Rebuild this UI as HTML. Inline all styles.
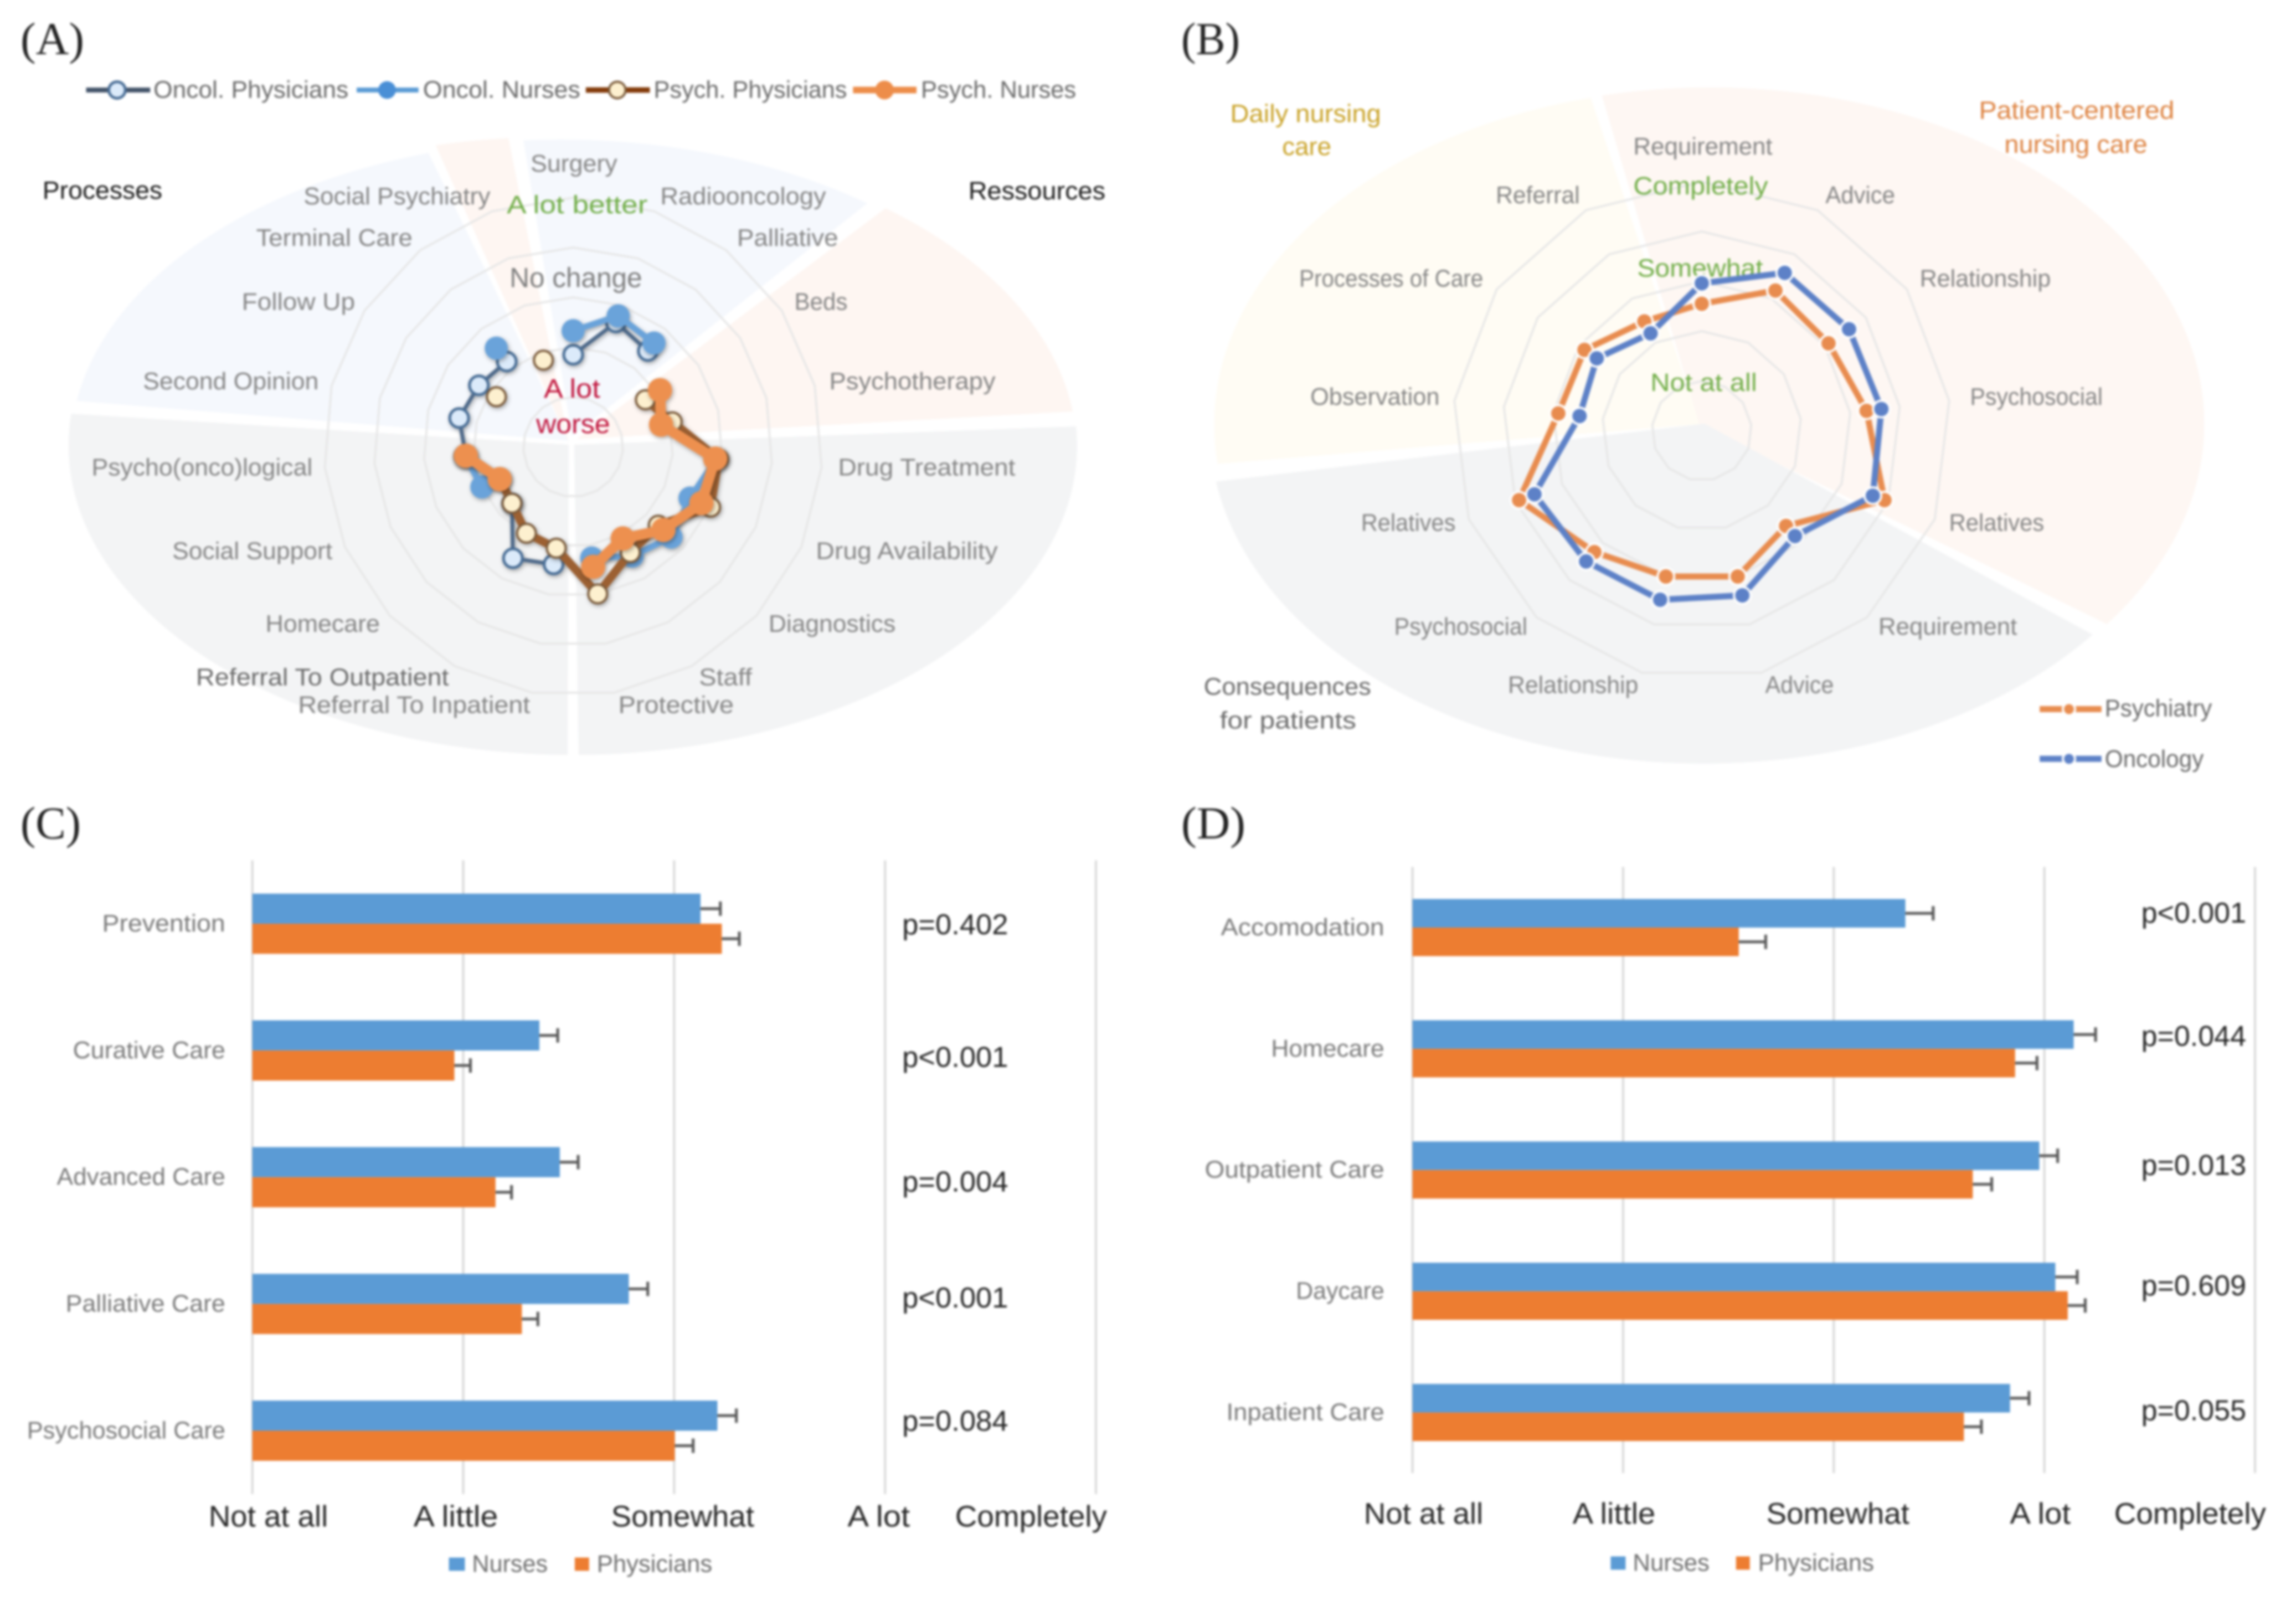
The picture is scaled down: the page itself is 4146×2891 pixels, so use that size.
<!DOCTYPE html>
<html lang="en">
<head>
<meta charset="utf-8">
<title>Four-panel survey chart</title>
<style>
html,body{margin:0;padding:0;background:#fff;width:4146px;height:2891px;overflow:hidden}
svg{display:block;filter:blur(2px)}
text{font-family:"Liberation Sans",sans-serif;font-size:44px;fill:#858585}
.panel{font-family:"Liberation Serif",serif;font-size:83px;fill:#222}
.dark{fill:#6b6b6b}
.black{fill:#1a1a1a;font-size:46px}
.green{fill:#70ad47;font-size:46px}
.red{fill:#c0143c;font-size:48px}
.nochange{fill:#7f7f7f;font-size:50px}
.gold{fill:#c9a227;font-size:46px}
.orange{fill:#dd8240;font-size:46px}
.tick{fill:#262626;font-size:54px}
.pval{fill:#262626;font-size:52px}
.leg{fill:#6f6f6f;font-size:44px}
.legA{fill:#6a6a6a;font-size:44px}
</style>
</head>
<body>
<svg id="fig" xmlns="http://www.w3.org/2000/svg" width="4146" height="2891" viewBox="0 0 4146 2891">
<defs>
<filter id="sh" x="-5%" y="-5%" width="110%" height="110%"><feDropShadow dx="2" dy="3" stdDeviation="4" flood-color="#000" flood-opacity="0.35"/></filter>
</defs>
<rect width="4146" height="2891" fill="#fff"/>

<text class="panel" x="37" y="98" textLength="115" lengthAdjust="spacingAndGlyphs">(A)</text>
<text class="panel" x="2133" y="98" textLength="106" lengthAdjust="spacingAndGlyphs">(B)</text>
<text class="panel" x="37" y="1514" textLength="109" lengthAdjust="spacingAndGlyphs">(C)</text>
<text class="panel" x="2133" y="1514" textLength="116" lengthAdjust="spacingAndGlyphs">(D)</text>

<g transform="scale(.997,.9973)">
<path fill="#f5f8fd" d="M1030 798 L139 726 A915 560 0 0 1 776 277 Z"/>
<path fill="#fef6f2" d="M1030 800 L789 263 A915 560 0 0 1 921 250 Z"/>
<path fill="#f5f8fd" d="M1036 790 L948 254 A915 560 0 0 1 1571 368 Z"/>
<path fill="#fef6f2" d="M1045 795 L1604 377 A915 560 0 0 1 1943 745 Z"/>
<path fill="#f3f4f5" d="M1040 805 L1949 772 A915 560 0 0 1 1048 1367 Z"/>
<path fill="#f3f4f5" d="M1030 805 L1028 1367 A915 560 0 0 1 129 749 Z"/>
</g>
<g transform="translate(2073,0) scale(.997,.9973) translate(-2073,0)">
<path fill="#fffcf4" d="M3073 768 L2199 840 A895 609 0 0 1 2875 177 Z"/>
<path fill="#fef7f3" d="M3072 770 L2895 173 A895 609 0 0 1 3810 1130 Z"/>
<path fill="#f3f4f5" d="M3081 767 L3784 1149 A895 609 0 0 1 2196 872 Z"/>
</g>

<g id="ringsA"></g>
<g id="ringsB"></g>

<g transform="scale(.997,.9973)">
<g>
<line x1="156" x2="272" y1="163" y2="163" stroke="#44546a" stroke-width="9"/>
<circle cx="212" cy="163" r="15" fill="#dbeafa" stroke="#4a6e96" stroke-width="5"/>
<text class="legA" x="278" y="177" textLength="353" lengthAdjust="spacingAndGlyphs">Oncol. Physicians</text>
</g>
<g>
<line x1="646" x2="758" y1="163" y2="163" stroke="#5b9bd5" stroke-width="9"/>
<circle cx="701" cy="163" r="16" fill="#4a8fd6"/>
<text class="legA" x="766" y="177" textLength="285" lengthAdjust="spacingAndGlyphs">Oncol. Nurses</text>
</g>
<g>
<line x1="1061" x2="1177" y1="163" y2="163" stroke="#843c0c" stroke-width="10"/>
<circle cx="1118" cy="163" r="15" fill="#fdf0cf" stroke="#7a5a3a" stroke-width="4"/>
<text class="legA" x="1184" y="177" textLength="350" lengthAdjust="spacingAndGlyphs">Psych. Physicians</text>
</g>
<g>
<line x1="1545" x2="1660" y1="163" y2="163" stroke="#ed8d4a" stroke-width="12"/>
<circle cx="1602" cy="163" r="17" fill="#ed8d4a"/>
<text class="legA" x="1668" y="177" textLength="281" lengthAdjust="spacingAndGlyphs">Psych. Nurses</text>
</g>
</g>

<g transform="scale(.997,.9973)">
<text class="black" x="77" y="360" textLength="217" lengthAdjust="spacingAndGlyphs">Processes</text>
<text class="black" x="1754" y="361" textLength="248" lengthAdjust="spacingAndGlyphs">Ressources</text>
<text x="961" y="311" textLength="157" lengthAdjust="spacingAndGlyphs">Surgery</text>
<text x="550" y="370" textLength="338" lengthAdjust="spacingAndGlyphs">Social Psychiatry</text>
<text class="green" x="918" y="386" textLength="255" lengthAdjust="spacingAndGlyphs">A lot better</text>
<text x="1196" y="370" textLength="300" lengthAdjust="spacingAndGlyphs">Radiooncology</text>
<text x="464" y="445" textLength="283" lengthAdjust="spacingAndGlyphs">Terminal Care</text>
<text x="1335" y="445" textLength="183" lengthAdjust="spacingAndGlyphs">Palliative</text>
<text class="nochange" x="923" y="520" textLength="240" lengthAdjust="spacingAndGlyphs">No change</text>
<text x="438" y="561" textLength="205" lengthAdjust="spacingAndGlyphs">Follow Up</text>
<text x="1439" y="561" textLength="96" lengthAdjust="spacingAndGlyphs">Beds</text>
<text x="259" y="705" textLength="318" lengthAdjust="spacingAndGlyphs">Second Opinion</text>
<text x="1502" y="705" textLength="301" lengthAdjust="spacingAndGlyphs">Psychotherapy</text>
<text class="red" x="985" y="720" textLength="102" lengthAdjust="spacingAndGlyphs">A lot</text>
<text class="red" x="971" y="784" textLength="134" lengthAdjust="spacingAndGlyphs">worse</text>
<text x="166" y="861" textLength="400" lengthAdjust="spacingAndGlyphs">Psycho(onco)logical</text>
<text x="1518" y="861" textLength="321" lengthAdjust="spacingAndGlyphs">Drug Treatment</text>
<text x="312" y="1012" textLength="290" lengthAdjust="spacingAndGlyphs">Social Support</text>
<text x="1478" y="1012" textLength="329" lengthAdjust="spacingAndGlyphs">Drug Availability</text>
<text x="481" y="1144" textLength="207" lengthAdjust="spacingAndGlyphs">Homecare</text>
<text x="1392" y="1144" textLength="230" lengthAdjust="spacingAndGlyphs">Diagnostics</text>
<text class="dark" x="355" y="1241" textLength="458" lengthAdjust="spacingAndGlyphs">Referral To Outpatient</text>
<text x="1266" y="1241" textLength="96" lengthAdjust="spacingAndGlyphs">Staff</text>
<text x="540" y="1291" textLength="420" lengthAdjust="spacingAndGlyphs">Referral To Inpatient</text>
<text x="1120" y="1291" textLength="209" lengthAdjust="spacingAndGlyphs">Protective</text>
</g>

<g transform="translate(2073,0) scale(.997,.9973) translate(-2073,0)">
<text class="gold" x="2222" y="221" textLength="273" lengthAdjust="spacingAndGlyphs">Daily nursing</text>
<text class="gold" x="2316" y="281" textLength="89" lengthAdjust="spacingAndGlyphs">care</text>
<text class="orange" x="3578" y="215" textLength="354" lengthAdjust="spacingAndGlyphs">Patient-centered</text>
<text class="orange" x="3624" y="277" textLength="259" lengthAdjust="spacingAndGlyphs">nursing care</text>
<text x="2952" y="280" textLength="252" lengthAdjust="spacingAndGlyphs">Requirement</text>
<text class="green" x="2952" y="352" textLength="244" lengthAdjust="spacingAndGlyphs">Completely</text>
<text x="2703" y="368" textLength="152" lengthAdjust="spacingAndGlyphs">Referral</text>
<text x="3300" y="368" textLength="126" lengthAdjust="spacingAndGlyphs">Advice</text>
<text class="green" x="2959" y="501" textLength="228" lengthAdjust="spacingAndGlyphs">Somewhat</text>
<text x="2347" y="519" textLength="333" lengthAdjust="spacingAndGlyphs">Processes of Care</text>
<text x="3471" y="519" textLength="237" lengthAdjust="spacingAndGlyphs">Relationship</text>
<text class="green" x="2983" y="708" textLength="193" lengthAdjust="spacingAndGlyphs">Not at all</text>
<text x="2367" y="733" textLength="234" lengthAdjust="spacingAndGlyphs">Observation</text>
<text x="3562" y="733" textLength="240" lengthAdjust="spacingAndGlyphs">Psychosocial</text>
<text x="2459" y="961" textLength="171" lengthAdjust="spacingAndGlyphs">Relatives</text>
<text x="3524" y="961" textLength="172" lengthAdjust="spacingAndGlyphs">Relatives</text>
<text x="2519" y="1149" textLength="241" lengthAdjust="spacingAndGlyphs">Psychosocial</text>
<text x="3396" y="1149" textLength="251" lengthAdjust="spacingAndGlyphs">Requirement</text>
<text x="2725" y="1255" textLength="236" lengthAdjust="spacingAndGlyphs">Relationship</text>
<text x="3191" y="1255" textLength="124" lengthAdjust="spacingAndGlyphs">Advice</text>
<text class="legA" x="2174" y="1258" textLength="303" lengthAdjust="spacingAndGlyphs">Consequences</text>
<text class="legA" x="2203" y="1319" textLength="247" lengthAdjust="spacingAndGlyphs">for patients</text>
</g>
<g transform="translate(2073,0) scale(.997,.9973) translate(-2073,0)">
<g>
<line x1="3688" x2="3800" y1="1284" y2="1284" stroke="#e88c4f" stroke-width="11"/>
<circle cx="3741" cy="1284" r="11" fill="#e88c4f" stroke="#fff" stroke-width="4"/>
<text class="legA" x="3806" y="1297" textLength="194" lengthAdjust="spacingAndGlyphs">Psychiatry</text>
</g>
<g>
<line x1="3688" x2="3800" y1="1374" y2="1374" stroke="#5d81c7" stroke-width="11"/>
<circle cx="3741" cy="1374" r="11" fill="#5d81c7" stroke="#fff" stroke-width="4"/>
<text class="legA" x="3806" y="1389" textLength="179" lengthAdjust="spacingAndGlyphs">Oncology</text>
</g>
</g>

<g id="marksA"></g>
<g id="marksB"></g>

<g id="chartC" transform="translate(0,1420) scale(.997,.9968) translate(0,-1420)"></g>
<g id="chartD" transform="translate(2073,1420) scale(.997,.9968) translate(-2073,-1420)"></g>

<g transform="translate(0,1420) scale(.997,.9968) translate(0,-1420)">
<text class="tick" x="378" y="2761" textLength="216" lengthAdjust="spacingAndGlyphs">Not at all</text>
<text class="tick" x="749" y="2761" textLength="153" lengthAdjust="spacingAndGlyphs">A little</text>
<text class="tick" x="1107" y="2761" textLength="259" lengthAdjust="spacingAndGlyphs">Somewhat</text>
<text class="tick" x="1535" y="2761" textLength="113" lengthAdjust="spacingAndGlyphs">A lot</text>
<text class="tick" x="1730" y="2761" textLength="275" lengthAdjust="spacingAndGlyphs">Completely</text>
</g>
<g transform="translate(0,1420) scale(.997,.9968) translate(0,-1420)">
<text class="pval" x="1634" y="1688" textLength="192" lengthAdjust="spacingAndGlyphs">p=0.402</text>
<text class="pval" x="1634" y="1928" textLength="192" lengthAdjust="spacingAndGlyphs">p&lt;0.001</text>
<text class="pval" x="1634" y="2154" textLength="192" lengthAdjust="spacingAndGlyphs">p=0.004</text>
<text class="pval" x="1634" y="2364" textLength="192" lengthAdjust="spacingAndGlyphs">p&lt;0.001</text>
<text class="pval" x="1634" y="2587" textLength="192" lengthAdjust="spacingAndGlyphs">p=0.084</text>
</g>
<g transform="translate(0,1420) scale(.997,.9968) translate(0,-1420)">
<rect x="813" y="2817" width="29" height="24" fill="#5b9bd5"/>
<text class="leg" x="855" y="2843" textLength="137" lengthAdjust="spacingAndGlyphs">Nurses</text>
<rect x="1041" y="2817" width="26" height="24" fill="#ed7d31"/>
<text class="leg" x="1081" y="2843" textLength="209" lengthAdjust="spacingAndGlyphs">Physicians</text>
</g>

<g transform="translate(2073,1420) scale(.997,.9968) translate(-2073,-1420)">
<text class="tick" x="2464" y="2756" textLength="216" lengthAdjust="spacingAndGlyphs">Not at all</text>
<text class="tick" x="2842" y="2756" textLength="150" lengthAdjust="spacingAndGlyphs">A little</text>
<text class="tick" x="3193" y="2756" textLength="259" lengthAdjust="spacingAndGlyphs">Somewhat</text>
<text class="tick" x="3634" y="2756" textLength="110" lengthAdjust="spacingAndGlyphs">A lot</text>
<text class="tick" x="3823" y="2756" textLength="275" lengthAdjust="spacingAndGlyphs">Completely</text>
</g>
<g transform="translate(2073,1420) scale(.997,.9968) translate(-2073,-1420)">
<text class="pval" x="3872" y="1667" textLength="190" lengthAdjust="spacingAndGlyphs">p&lt;0.001</text>
<text class="pval" x="3872" y="1890" textLength="190" lengthAdjust="spacingAndGlyphs">p=0.044</text>
<text class="pval" x="3872" y="2124" textLength="190" lengthAdjust="spacingAndGlyphs">p=0.013</text>
<text class="pval" x="3872" y="2342" textLength="190" lengthAdjust="spacingAndGlyphs">p=0.609</text>
<text class="pval" x="3872" y="2568" textLength="190" lengthAdjust="spacingAndGlyphs">p=0.055</text>
</g>
<g transform="translate(2073,1420) scale(.997,.9968) translate(-2073,-1420)">
<rect x="2911" y="2815" width="27" height="24" fill="#5b9bd5"/>
<text class="leg" x="2951" y="2841" textLength="139" lengthAdjust="spacingAndGlyphs">Nurses</text>
<rect x="3138" y="2815" width="25" height="24" fill="#ed7d31"/>
<text class="leg" x="3178" y="2841" textLength="210" lengthAdjust="spacingAndGlyphs">Physicians</text>
</g>
</svg>

<script>
// ---- Panel A data (radar, 19 axes; null = not asked for that group) ----
const radarACategories = ["Surgery","Radiooncology","Palliative","Beds","Psychotherapy","Drug Treatment","Drug Availability","Diagnostics","Staff","Protective","Referral To Inpatient","Referral To Outpatient","Homecare","Social Support","Psycho(onco)logical","Second Opinion","Follow Up","Terminal Care","Social Psychiatry"];
const oncolPhysicians = [1.85,2.64,2.44,null,null,null,null,null,null,null,2.39,2.54,1.67,1.62,2.16,2.36,2.26,2.17,null];
const oncolNurses = [2.33,2.78,2.64,null,null,2.88,2.56,2.67,2.49,2.26,null,null,null,2.00,2.18,null,null,2.51,null];
const psychPhysicians = [null,null,null,1.73,2.05,2.93,3.01,2.32,2.41,2.99,2.06,1.97,1.67,1.60,2.20,null,1.84,null,1.84];
const psychNurses = [null,null,null,2.08,1.82,2.86,2.81,2.46,2.09,2.44,null,null,null,1.61,2.16,null,null,null,null];
const radarARings = [1,2,3,4,5];

// ---- Panel B data (radar, 13 axes) ----
const radarBCategories = ["Requirement","Advice","Relationship","Psychosocial","Relatives","Requirement 2","Advice 2","Relationship 2","Psychosocial 2","Relatives 2","Observation","Processes of Care","Referral"];
const psychiatry = [2.55,3.18,3.09,3.33,3.92,2.55,3.01,3.01,3.25,3.92,2.90,2.86,2.48];
const oncology = [2.96,3.58,3.59,3.63,3.67,2.82,3.40,3.49,3.50,3.59,2.47,2.56,2.21];
const radarBRings = [1,2,3,4,5];

// ---- Panel C data (1 = Not at all ... 5 = Completely) ----
const chartCCategories = ["Prevention","Curative Care","Advanced Care","Palliative Care","Psychosocial Care"];
const chartCNurses = [3.125,2.361,2.458,2.785,3.205];
const chartCPhysicians = [3.226,1.958,2.153,2.278,3.003];
const chartCNursesErr = [0.094,0.087,0.087,0.09,0.09];
const chartCPhysiciansErr = [0.083,0.076,0.076,0.076,0.087];
const chartCTicks = [1,2,3,4,5];

// ---- Panel D data ----
const chartDCategories = ["Accomodation","Homecare","Outpatient Care","Daycare","Inpatient Care"];
const chartDNurses = [3.34,4.139,3.976,4.052,3.837];
const chartDPhysicians = [2.549,3.861,3.66,4.111,3.618];
const chartDNursesErr = [0.132,0.104,0.087,0.104,0.09];
const chartDPhysiciansErr = [0.128,0.104,0.09,0.083,0.083];
const chartDTicks = [1,2,3,4,5];

const NS = 'http://www.w3.org/2000/svg';
function svgEl(tag, attrs) {
  const el = document.createElementNS(NS, tag);
  for (const k in attrs) el.setAttribute(k, attrs[k]);
  return el;
}
function slug(s) { return String(s).toLowerCase().replace(/[^a-z0-9]+/g, '-').replace(/^-|-$/g, ''); }

function radarPoint(geom, i, v) {
  const a = 2 * Math.PI * i / geom.n;
  return [geom.cx + geom.unit * v * Math.sin(a), geom.cy - geom.unit * v * Math.cos(a)];
}

function drawRings(host, geom, rings, prefix) {
  rings.forEach(function (r) {
    const pts = [];
    for (let i = 0; i < geom.n; i++) pts.push(radarPoint(geom, i, r).join(','));
    const ring = svgEl('polygon', {points: pts.join(' '), fill: 'none', stroke: '#e6e6e6', 'stroke-width': 3.5});
    
    
    host.appendChild(ring);
  });
}

function drawRadarSeries(host, geom, name, cats, values, st, closed) {
  const group = svgEl('g', st.shadow ? {filter: 'url(#sh)'} : {});
  
  
  let d = '';
  let prev = false;
  values.forEach(function (v, i) {
    if (v === null) { prev = false; return; }
    const p = radarPoint(geom, i, v);
    d += (prev ? 'L' : 'M') + p[0].toFixed(1) + ' ' + p[1].toFixed(1) + ' ';
    prev = true;
  });
  if (closed) d += 'Z';
  const line = svgEl('path', {d: d, fill: 'none', stroke: st.line, 'stroke-width': st.lineWidth, 'stroke-linejoin': 'round'});
  
  
  group.appendChild(line);
  values.forEach(function (v, i) {
    if (v === null) return;
    const p = radarPoint(geom, i, v);
    const dot = svgEl('circle', {cx: p[0], cy: p[1], r: st.r, fill: st.fill, stroke: st.stroke, 'stroke-width': st.strokeWidth});
    
    
    group.appendChild(dot);
  });
  host.appendChild(group);
}

function drawBars(host, cfg) {
  const xOf = function (v) { return cfg.x0 + (v - 1) * cfg.unit; };
  const band = (cfg.yBottom - cfg.yTop) / cfg.categories.length;
  cfg.ticks.forEach(function (t) {
    const grid = svgEl('line', {x1: xOf(t), x2: xOf(t), y1: cfg.yTop, y2: cfg.yBottom, stroke: '#d9d9d9', 'stroke-width': 4});
    
    
    host.appendChild(grid);
  });
  cfg.categories.forEach(function (c, i) {
    const cy = cfg.yTop + band * (i + 0.5);
    const label = svgEl('text', {x: cfg.labelX, y: cy + 14, 'text-anchor': 'end', textLength: cfg.labelWidth[c], lengthAdjust: 'spacingAndGlyphs', style: 'fill:#7a7a7a'});
    label.textContent = c;
    
    
    host.appendChild(label);
    [[cfg.nurses, cfg.nursesErr, '#5b9bd5', 'nurses', cy - cfg.barH],
     [cfg.physicians, cfg.physiciansErr, '#ed7d31', 'physicians', cy]].forEach(function (s) {
      const vx = xOf(s[0][i]);
      const bar = svgEl('rect', {x: cfg.x0, y: s[4], width: vx - cfg.x0, height: cfg.barH, fill: s[2]});
      
      
      host.appendChild(bar);
      const ex = xOf(s[0][i] + s[1][i]);
      const my = s[4] + cfg.barH / 2;
      const err = svgEl('path', {d: 'M' + vx + ' ' + my + 'H' + ex + 'M' + ex + ' ' + (my - 13) + 'V' + (my + 13), stroke: '#595959', 'stroke-width': 5, fill: 'none'});
      
      
      host.appendChild(err);
    });
  });
}

const geomA = {cx: 1035, cy: 807, unit: 90, n: radarACategories.length};
const geomB = {cx: 3073, cy: 778, unit: 90, n: radarBCategories.length};

drawRings(document.getElementById('ringsA'), geomA, radarARings, 'radar-a');
drawRings(document.getElementById('ringsB'), geomB, radarBRings, 'radar-b');

const marksA = document.getElementById('marksA');
drawRadarSeries(marksA, geomA, 'oncol-physicians', radarACategories, oncolPhysicians, {line: '#4f6a8a', lineWidth: 7, r: 17, fill: '#dbeafa', stroke: '#4a6e96', strokeWidth: 5, shadow: true}, false);
drawRadarSeries(marksA, geomA, 'oncol-nurses', radarACategories, oncolNurses, {line: '#6aa3da', lineWidth: 11, r: 21, fill: '#6aa3da', stroke: 'none', strokeWidth: 0, shadow: true}, false);
drawRadarSeries(marksA, geomA, 'psych-physicians', radarACategories, psychPhysicians, {line: '#9c6030', lineWidth: 15, r: 17, fill: '#fdf0cf', stroke: '#7a5a3a', strokeWidth: 4, shadow: true}, false);
drawRadarSeries(marksA, geomA, 'psych-nurses', radarACategories, psychNurses, {line: '#ed9050', lineWidth: 19, r: 22, fill: '#ed9050', stroke: 'none', strokeWidth: 0, shadow: true}, false);

const marksB = document.getElementById('marksB');
drawRadarSeries(marksB, geomB, 'psychiatry', radarBCategories, psychiatry, {line: '#e88c4f', lineWidth: 11, r: 15, fill: '#e88c4f', stroke: '#fff', strokeWidth: 4, shadow: false}, true);
drawRadarSeries(marksB, geomB, 'oncology', radarBCategories, oncology, {line: '#5d81c7', lineWidth: 11, r: 15, fill: '#5d81c7', stroke: '#fff', strokeWidth: 4, shadow: false}, true);

drawBars(document.getElementById('chartC'), {
  x0: 457, unit: 382, yTop: 1554, yBottom: 2702, barH: 54.5, labelX: 408,
  labelWidth: {"Prevention": 223, "Curative Care": 276, "Advanced Care": 305, "Palliative Care": 289, "Psychosocial Care": 359},
  categories: chartCCategories, nurses: chartCNurses, physicians: chartCPhysicians,
  nursesErr: chartCNursesErr, physiciansErr: chartCPhysiciansErr, ticks: chartCTicks
});
drawBars(document.getElementById('chartD'), {
  x0: 2552, unit: 381.5, yTop: 1566, yBottom: 2664, barH: 51.7, labelX: 2501,
  labelWidth: {"Accomodation": 296, "Homecare": 205, "Outpatient Care": 325, "Daycare": 160, "Inpatient Care": 286},
  categories: chartDCategories, nurses: chartDNurses, physicians: chartDPhysicians,
  nursesErr: chartDNursesErr, physiciansErr: chartDPhysiciansErr, ticks: chartDTicks
});
</script>
</body>
</html>
